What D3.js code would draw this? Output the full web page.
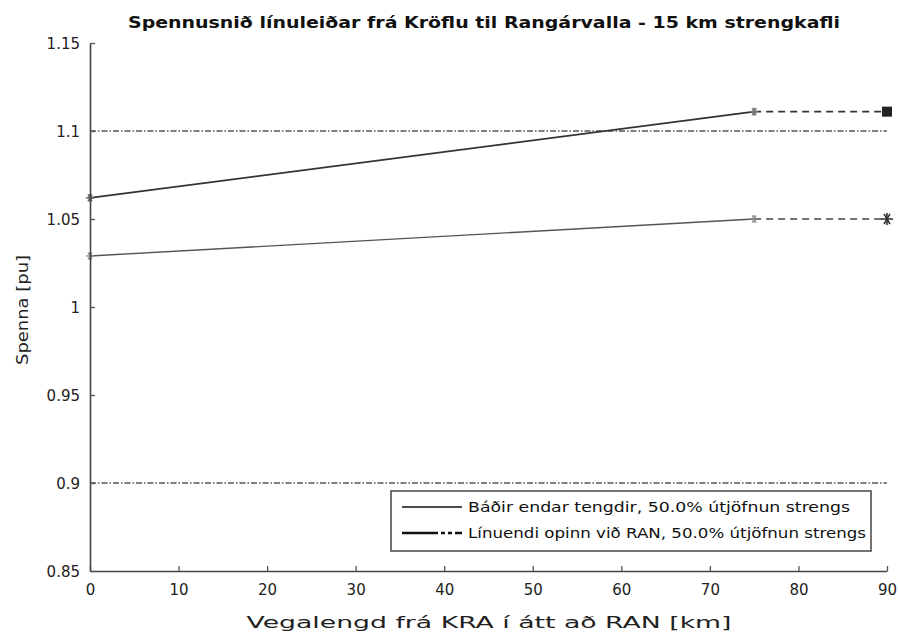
<!DOCTYPE html>
<html><head><meta charset="utf-8">
<script src="https://cdn.jsdelivr.net/npm/d3@7"></script>
<style>body{margin:0;background:#fff}svg{font-family:"DejaVu Sans",Arial,sans-serif}</style>
</head><body>
<svg id="c" width="898" height="634"></svg>
<script>
const title = "Spennusnið línuleiðar frá Kröflu til Rangárvalla - 15 km strengkafli";
const xLabel = "Vegalengd frá KRA í átt að RAN [km]";
const yLabel = "Spenna [pu]";
const xTicks = [0,10,20,30,40,50,60,70,80,90];
const yTicks = [0.85,0.9,0.95,1,1.05,1.1,1.15];
const yTickLabels = ["0.85","0.9","0.95","1","1.05","1.1","1.15"];
const legendLabels = ["Báðir endar tengdir, 50.0% útjöfnun strengs","Línuendi opinn við RAN, 50.0% útjöfnun strengs"];
// solid segments (0 -> 75 km)
const distSolid = [0,75];
const upperSolid = [1.062,1.111];
const lowerSolid = [1.029,1.050];
// dashed extensions (75 -> 90 km)
const distDash = [75,90];
const upperDash = [1.111,1.111];
const lowerDash = [1.050,1.050];
const limits = [1.1,0.9];

const svg = d3.select("#c");
const x = d3.scaleLinear().domain([0,90]).range([90,887]);
const y = d3.scaleLinear().domain([0.85,1.15]).range([571,43]);

limits.forEach(v=>{
  svg.append("line").attr("x1",x(0)).attr("x2",x(90)).attr("y1",y(v)).attr("y2",y(v))
    .attr("stroke","#555").attr("stroke-width",1.4).attr("stroke-dasharray","6,2,1.5,2");
});

const line = d3.line().x(d=>x(d[0])).y(d=>y(d[1]));
function drawLine(xs, ys, dash, w, col){
  svg.append("path").datum(xs.map((d,i)=>[d,ys[i]])).attr("d",line)
    .attr("fill","none").attr("stroke",col).attr("stroke-width",w)
    .attr("stroke-dasharray",dash);
}
drawLine(distSolid, upperSolid, null, 1.7, "#333");
drawLine(distSolid, lowerSolid, null, 1.4, "#555");
drawLine(distDash, upperDash, "7,5", 1.8, "#333");
drawLine(distDash, lowerDash, "7,5", 1.5, "#444");

function star(cx, cy, r, col, w){
  const g = svg.append("g").attr("stroke",col).attr("stroke-width",w);
  [0,60,120].forEach(a=>{
    const rad=a*Math.PI/180;
    g.append("line").attr("x1",cx-r*Math.cos(rad)).attr("y1",cy-r*Math.sin(rad))
      .attr("x2",cx+r*Math.cos(rad)).attr("y2",cy+r*Math.sin(rad));
  });
  g.append("line").attr("x1",cx).attr("y1",cy-r).attr("x2",cx).attr("y2",cy+r);
}
star(x(distSolid[0]), y(upperSolid[0]), 4, "#666", 1.5);
star(x(distSolid[0]), y(lowerSolid[0]), 4, "#888", 1.2);
star(x(distSolid[1]), y(upperSolid[1]), 4, "#777", 1.5);
star(x(distSolid[1]), y(lowerSolid[1]), 4, "#888", 1.2);
svg.append("rect").attr("x",x(distDash[1])-5).attr("y",y(upperDash[1])-5).attr("width",10).attr("height",10).attr("fill","#222");
star(x(distDash[1]), y(lowerDash[1]), 6, "#333", 1.6);

const xAxis = d3.axisBottom(x).tickValues(xTicks).tickSizeInner(-5).tickSizeOuter(0).tickPadding(13);
const gx = svg.append("g").attr("transform",`translate(0,${y(0.85)})`).call(xAxis);
const yAxis = d3.axisLeft(y).tickValues(yTicks).tickFormat((d,i)=>yTickLabels[i]).tickSizeInner(-5).tickSizeOuter(0).tickPadding(10);
const gy = svg.append("g").attr("transform",`translate(${x(0)},0)`).call(yAxis);
[gx,gy].forEach(g=>{
  g.selectAll("path").attr("stroke","#444").attr("stroke-width",1.6);
  g.selectAll("line").attr("stroke","#555").attr("stroke-width",1.3);
  g.selectAll("text").attr("font-size",15).attr("fill","#222").attr("font-family","DejaVu Sans, Arial, sans-serif");
});
gy.selectAll("text").attr("dy","0.35em");

svg.append("text").attr("x",484).attr("y",28).attr("text-anchor","middle")
  .attr("font-size",15).attr("font-weight","bold").attr("fill","#111")
  .attr("textLength",712).attr("lengthAdjust","spacingAndGlyphs").text(title);
svg.append("text").attr("x",489).attr("y",628).attr("text-anchor","middle")
  .attr("font-size",16).attr("fill","#222")
  .attr("textLength",485).attr("lengthAdjust","spacingAndGlyphs").text(xLabel);
svg.append("text").attr("transform","translate(28,310) rotate(-90)").attr("text-anchor","middle")
  .attr("font-size",16).attr("fill","#222")
  .attr("textLength",110).attr("lengthAdjust","spacingAndGlyphs").text(yLabel);

svg.append("rect").attr("x",391).attr("y",491).attr("width",480).attr("height",60)
  .attr("fill","#fff").attr("stroke","#444").attr("stroke-width",1.5);
const ly = [507,533];
svg.append("line").attr("x1",402).attr("x2",462).attr("y1",ly[0]).attr("y2",ly[0]).attr("stroke","#111").attr("stroke-width",1.4);
svg.append("line").attr("x1",402).attr("x2",462).attr("y1",ly[1]).attr("y2",ly[1]).attr("stroke","#111").attr("stroke-width",2.6).attr("stroke-dasharray","36,3,4,3,4,3,8");
const lw = [382,398];
legendLabels.forEach((t,i)=>{
  svg.append("text").attr("x",468).attr("y",ly[i]+5).attr("font-size",14).attr("fill","#111")
    .attr("textLength",lw[i]).attr("lengthAdjust","spacingAndGlyphs").text(t);
});
</script>
</body></html>
